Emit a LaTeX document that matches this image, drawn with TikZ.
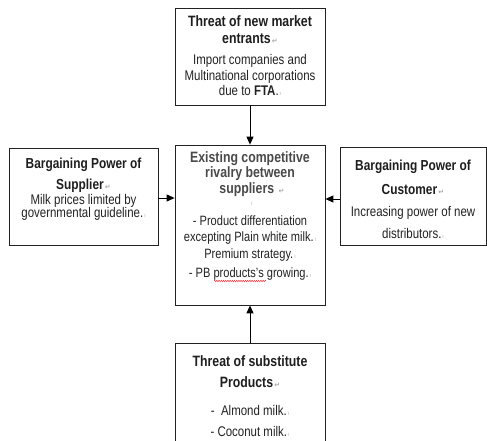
\documentclass[tikz,border=0pt]{standalone}
\usepackage{fontspec}
\setmainfont{Liberation Sans}[FakeStretch=0.82]
\newfontfamily\symfont{DejaVu Sans}
\usetikzlibrary{arrows.meta,decorations.pathmorphing}
\definecolor{boxline}{HTML}{222222}
\definecolor{titlecol}{HTML}{1E1E1E}
\definecolor{ctitlecol}{HTML}{4A4A4A}
\definecolor{bodycol}{HTML}{222222}
\definecolor{markgray}{HTML}{A8A8A8}
\definecolor{spellred}{HTML}{E0303A}
\newcommand{\pmark}{{\color{markgray}\symfont\fontsize{7}{7}\selectfont\,↵}}
\newcommand{\cmark}{{\color{markgray}\fontsize{6}{6}\selectfont\,ı}}
\begin{document}
\begin{tikzpicture}[x=1pt,y=-1pt,
  box/.style={draw=boxline,line width=0.8pt},
  ttl/.style={anchor=base,inner sep=0pt,text=titlecol,font=\fontsize{15}{17}\selectfont\bfseries},
  sttl/.style={anchor=base,inner sep=0pt,text=titlecol,font=\fontsize{14.5}{17}\selectfont\bfseries},
  cttl/.style={anchor=base,inner sep=0pt,text=ctitlecol,font=\fontsize{15}{17}\selectfont\bfseries},
  body/.style={anchor=base,inner sep=0pt,text=bodycol,font=\fontsize{14}{16}\selectfont},
  cbody/.style={anchor=base,inner sep=0pt,text=bodycol,font=\fontsize{13.5}{16}\selectfont},
  arr/.style={line width=1pt,-{Triangle[length=8pt,width=7pt]}}]
\clip (0,0) rectangle (487,441);
\fill[white] (0,0) rectangle (487,441);
% boxes
\node[box,minimum width=150pt,minimum height=97pt,inner sep=0pt] (top) at (250,56.5) {};
\node[box,minimum width=149pt,minimum height=97pt,inner sep=0pt] (left) at (83.5,196.5) {};
\node[box,minimum width=150pt,minimum height=160pt,inner sep=0pt] (center) at (250,225) {};
\node[box,minimum width=146pt,minimum height=98pt,inner sep=0pt] (right) at (413,196) {};
\node[box,minimum width=150pt,minimum height=117pt,inner sep=0pt] (bottom) at (250,401.5) {};
% top text
\node[ttl] (t1) at (250,27) {Threat of new market};
\node[ttl] (t2) at (250,44) {entrants\pmark};
\node[body] (t3) at (250,65) {Import companies and};
\node[body] (t4) at (250,81) {Multinational corporations};
\node[body] (t5) at (250,96) {due to \textbf{FTA}.\cmark};
% left text
\node[sttl] (l1) at (83.5,168) {Bargaining Power of};
\node[sttl] (l2) at (83.5,189) {Supplier\pmark};
\node[body] (l3) at (83.5,204) {Milk prices limited by};
\node[body] (l4) at (83.5,217) {governmental guideline.\cmark};
% center text
\node[cttl] (c1) at (250,162) {Existing competitive};
\node[cttl] (c2) at (250,177) {rivalry between};
\node[cttl] (c3) at (252,193) {suppliers \pmark};
\node[cbody] (c4) at (251,205) {\cmark};
\node[cbody] (c5) at (250,225) {- Product differentiation};
\node[cbody] (c6) at (250,241) {excepting Plain white milk.\cmark};
\node[cbody] (c7) at (250,258) {Premium strategy.\cmark};
\node[cbody] (c8) at (250,277) {- PB products's growing.\cmark};
\draw[spellred,line width=0.5pt,decorate,decoration={snake,segment length=2.2pt,amplitude=0.7pt}] (214,281) -- (266,281);
% right text
\node[sttl] (r1) at (413,170) {Bargaining Power of};
\node[sttl] (r2) at (413,194) {Customer\pmark};
\node[body] (r3) at (413,216) {Increasing power of new};
\node[body] (r4) at (413,238) {distributors.\cmark};
% bottom text
\node[ttl] (b1) at (250,366) {Threat of substitute};
\node[ttl] (b2) at (250,387) {Products\pmark};
\node[body] (b3) at (250,415) {-\ \ Almond milk.\cmark};
\node[body] (b4) at (250,436) {- Coconut milk.\cmark};
% arrows
\draw[arr] (top.south) -- (center.north);
\draw[arr] (bottom.north) -- (center.south);
\draw[arr] (left.east |- 0,198) -- (center.west |- 0,198);
\draw[arr] (right.west |- 0,199) -- (center.east |- 0,199);
\end{tikzpicture}
\end{document}
